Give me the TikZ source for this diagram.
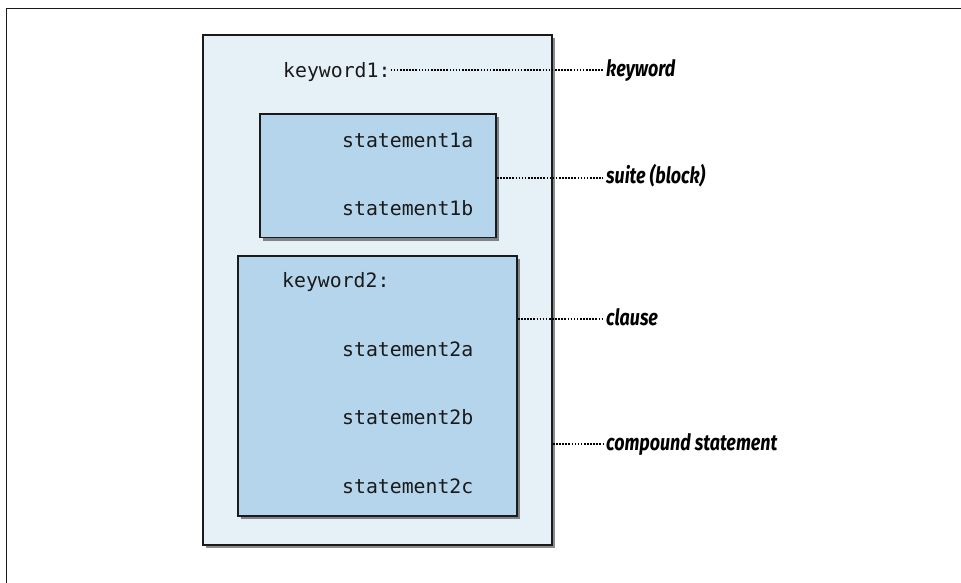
\documentclass[tikz,border=0pt]{standalone}
\usepackage{fontspec}
\usepackage{tikz}
\usetikzlibrary{shapes,arrows,shadows}
\newfontfamily\codefont{DejaVu Sans Mono}
\newfontfamily\notefont[FakeStretch=0.8]{Fira Sans}
\definecolor{paleBlue}{RGB}{230,240,247}
\definecolor{midBlue}{RGB}{180,213,235}
\definecolor{inkBlack}{RGB}{26,26,26}

\begin{document}
\begin{tikzpicture}[x=1pt, y=-1pt]%
  \tikzset{box/.style={draw=inkBlack, line width=1.8pt, rectangle, inner sep=0pt,
      drop shadow={shadow xshift=3pt, shadow yshift=-3pt, opacity=0.45, fill=black}}}
  \tikzset{code/.style={font=\codefont\fontsize{19.8}{24}\selectfont, text=inkBlack, inner sep=0pt, anchor=base west}}
  \tikzset{note/.style={font=\notefont\fontsize{22.4}{26}\selectfont\bfseries\itshape, text=black, inner sep=0pt, anchor=base west}}
  \tikzset{dotted line/.style={draw, line width=1.7pt, dash pattern=on 1.6pt off 1.5pt, black}}

  \useasboundingbox (0,0) rectangle (961,583);
  \draw[line width=1.8pt, inkBlack] (6.5,583) -- (6.5,8.5) -- (961,8.5);

  \node[box, fill=paleBlue, minimum width=349pt, minimum height=510pt] at (377.5,290) (compound) {};
  \node[box, fill=midBlue, minimum width=236pt, minimum height=123.5pt] at (378,175.75) (suite) {};
  \node[box, fill=midBlue, minimum width=279pt, minimum height=260pt] at (377.5,386) (clause) {};

  \node[code] at (283,78) (kw1) {keyword1:};
  \node[code] at (342,148) (st1a) {statement1a};
  \node[code] at (342,215) (st1b) {statement1b};
  \node[code] at (282,287) (kw2) {keyword2:};
  \node[code] at (342,356) (st2a) {statement2a};
  \node[code] at (342,424) (st2b) {statement2b};
  \node[code] at (342,493) (st2c) {statement2c};

  \node[note] at (606,77) (keywordlbl) {keyword};
  \node[note] at (606,183) (suitelbl) {suite (block)};
  \node[note] at (606,325) (clauselbl) {clause};
  \node[note] at (606,450) (compoundlbl) {compound statement};

  \coordinate (kwend) at ([yshift=7pt]keywordlbl.base west);
  \coordinate (suiteend) at ([yshift=5pt]suitelbl.base west);
  \coordinate (clauseend) at ([yshift=6pt]clauselbl.base west);
  \coordinate (compoundend) at ([yshift=6pt]compoundlbl.base west);

  \path[dotted line] (kw1.east |- kwend) -- ([xshift=-3pt]kwend);
  \path[dotted line] (suite.east |- suiteend) -- ([xshift=-3pt]suiteend);
  \path[dotted line] (clause.east |- clauseend) -- ([xshift=-3pt]clauseend);
  \path[dotted line] (compound.east |- compoundend) -- ([xshift=-3pt]compoundend);

\end{tikzpicture}
\end{document}
